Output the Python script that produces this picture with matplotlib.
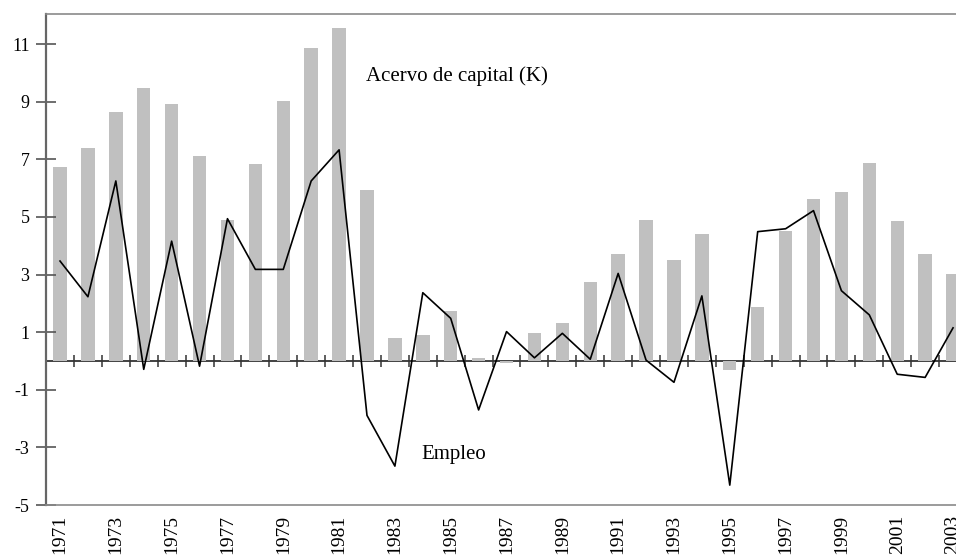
import matplotlib.pyplot as plt
import numpy as np

years = list(range(1971, 2004))

# Acervo de capital (K), tasa de crecimiento (%)
capital = [6.74, 7.38, 8.65, 9.46, 8.92, 7.12, 4.90, 6.85, 9.04, 10.87,
           11.56, 5.93, 0.79, 0.90, 1.75, 0.09, -0.08, 0.98, 1.33, 2.74,
           3.70, 4.90, 3.51, 4.40, -0.31, 1.86, 4.51, 5.63, 5.86, 6.89,
           4.86, 3.70, 3.01]

# Empleo (%)
empleo = [3.47, 2.23, 6.25, -0.29, 4.16, -0.18, 4.94, 3.18, 3.18, 6.25,
          7.33, -1.89, -3.65, 2.37, 1.48, -1.70, 1.02, 0.11, 0.96, 0.06,
          3.04, 0.03, -0.74, 2.26, -4.31, 4.49, 4.59, 5.22, 2.44, 1.60,
          -0.46, -0.57, 1.15]

yticks = [-5, -3, -1, 1, 3, 5, 7, 9, 11]

plt.rcParams["font.family"] = ["Liberation Serif", "DejaVu Serif"]

fig = plt.figure(figsize=(9.56, 5.6), dpi=100)
# axes run slightly past the right edge of the figure, as in the original
ax = fig.add_axes([0.0476, 0.0982, 0.9639, 0.877])

x = np.array(years)
ax.bar(x, capital, width=0.48, color="#c0c0c0", zorder=1)
ax.plot(x, empleo, color="black", linewidth=1.2, zorder=3)

ax.set_xlim(1970.48, 2003.5)
ax.set_ylim(-5, 12.05)

ax.set_yticks(yticks)
ax.set_yticklabels([str(t) for t in yticks])
ax.tick_params(axis="y", direction="inout", length=15, width=1.2,
               color="#555555", labelsize=13, pad=4)

ax.set_xticks(x[::2])
ax.set_xticklabels([str(y) for y in years[::2]], rotation=90, va="top")
ax.tick_params(axis="x", length=0, labelsize=14, pad=7)

for side in ["top", "bottom", "right"]:
    ax.spines[side].set_color("#8a8a8a")
    ax.spines[side].set_linewidth(1.2)
ax.spines["left"].set_color("#666666")
ax.spines["left"].set_linewidth(1.6)

# zero line with tick marks between years
zero_pos = (0 - (-5)) / (12.05 - (-5))
sec = ax.secondary_xaxis(zero_pos)
sec.set_xticks(x[:-1] + 0.5)
sec.set_xticklabels([])
sec.tick_params(direction="inout", length=9, width=1.1, color="#333333")
sec.spines["bottom"].set_color("#333333")
sec.spines["bottom"].set_linewidth(1.3)
sec.spines["top"].set_color("#333333")
sec.spines["top"].set_linewidth(1.3)

ax.text(1981.95, 9.9, "Acervo de capital (K)", fontsize=15, va="center", ha="left")
ax.text(1983.95, -3.26, "Empleo", fontsize=15, va="center", ha="left")

fig.savefig("out.png", dpi=100)
plt.close(fig)
